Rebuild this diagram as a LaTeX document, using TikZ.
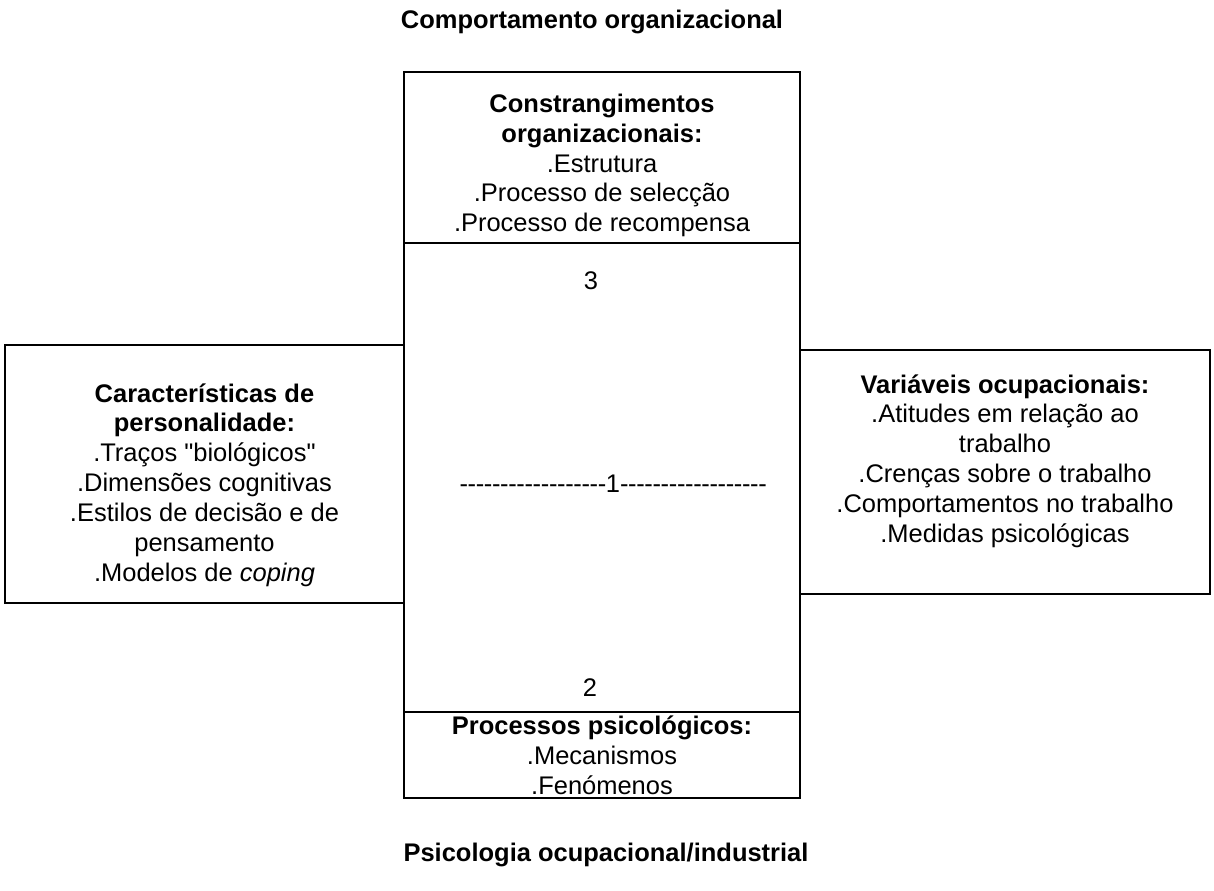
\documentclass[tikz,border=0pt]{standalone}
\usepackage{fontspec}
\setmainfont{Liberation Sans}[Ligatures=TeXOff]
\usetikzlibrary{positioning}

\newcommand{\hifens}[1]{\foreach \n in {1,...,#1}{-\kern-0.2pt}}

\begin{document}
\begin{tikzpicture}[x=0.02cm, y=-0.02cm,
        caixa/.style={draw, line width=1pt, inner sep=0pt},
        texto/.style={align=center, inner sep=0pt, font=\fontsize{14.5}{17}\selectfont},
        titulo/.style={font=\fontsize{14.5}{17}\selectfont\bfseries}]
                \useasboundingbox (0, 0) rectangle (1214, 890);

                \node[titulo] (comport) at (592, 22) {Comportamento organizacional};
                \node[titulo] (psico) at (606, 855) {Psicologia ocupacional/industrial};

                % coluna central
                \node[caixa, minimum width=7.92cm, minimum height=3.42cm] (constr) at (602, 157.5) {};
                \node[caixa, minimum width=7.92cm, minimum height=9.38cm] (centro) at (602, 477.5) {};
                \node[caixa, minimum width=7.92cm, minimum height=1.72cm] (processos) at (602, 755) {};

                % caixas laterais
                \node[caixa, minimum width=7.98cm, minimum height=5.16cm] (personal) at (204.5, 474) {};
                \node[caixa, minimum width=8.2cm, minimum height=4.88cm] (ocupac) at (1005, 472) {};

                % textos
                \node[texto] (t-constr) at ([yshift=-0.16cm]constr.center)
                    {\textbf{Constrangimentos}\\ \textbf{organizacionais:}\\ .Estrutura\\ .Processo de selecção\\ .Processo de recompensa};
                \node[texto] (t-processos) at (processos.center)
                    {\textbf{Processos psicológicos:}\\ .Mecanismos\\ .Fenómenos};
                \node[texto] (t-personal) at ([yshift=-0.22cm]personal.center)
                    {\textbf{Características de}\\ \textbf{personalidade:}\\ .Traços "biológicos"\\ .Dimensões cognitivas\\ .Estilos de decisão e de\\ pensamento\\ .Modelos de \textit{coping}};
                \node[texto] (t-ocupac) at ([yshift=0.22cm]ocupac.center)
                    {\textbf{Variáveis ocupacionais:}\\ .Atitudes em relação ao\\ trabalho\\ .Crenças sobre o trabalho\\ .Comportamentos no trabalho\\ .Medidas psicológicas};

                \node[texto] (n3) at (591, 281) {3};
                \node[texto] (n1) at (613, 484) {\hifens{18}1\hifens{18}};
                \node[texto] (n2) at (590, 688) {2};
\end{tikzpicture}
\end{document}
